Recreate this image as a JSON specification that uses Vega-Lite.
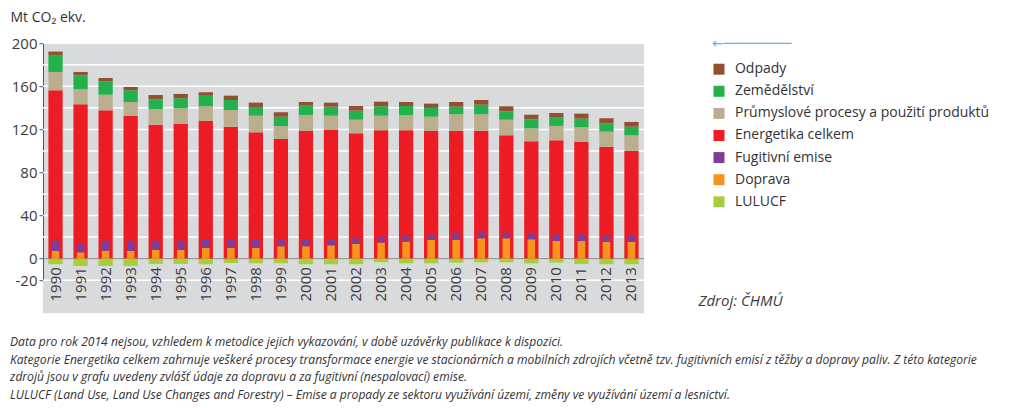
{
  "$schema": "https://vega.github.io/schema/vega-lite/v6.json",
  "width": 601,
  "height": 237,
  "autosize": {"type": "none"},
  "padding": {"left": 43, "top": 43.2, "right": 380, "bottom": 128},
  "background": "white",
  "config": {
    "view": {"fill": "#d9dadc", "stroke": null},
    "font": "Open Sans",
    "axisY": {"labelOverlap": false}
  },
  "title": {
    "text": [
      "Data pro rok 2014 nejsou, vzhledem k metodice jejich vykazování, v době uzávěrky publikace k dispozici.",
      "Kategorie Energetika celkem zahrnuje veškeré procesy transformace energie ve stacionárních a mobilních zdrojích včetně tzv. fugitivních emisí z těžby a dopravy paliv. Z této kategorie",
      "zdrojů jsou v grafu uvedeny zvlášť údaje za dopravu a za fugitivní (nespalovací) emise.",
      "LULUCF (Land Use, Land Use Changes and Forestry) – Emise a propady ze sektoru využívání území, změny ve využívání území a lesnictví."
    ],
    "orient": "bottom",
    "anchor": "start",
    "frame": "group",
    "dx": -33,
    "offset": 23,
    "font": "Open Sans",
    "fontSize": 12.1,
    "fontStyle": "italic",
    "fontWeight": "normal",
    "color": "#333333",
    "lineHeight": 17.5
  },
  "data": {
    "values": [
      {"rok": "1990", "Energetika celkem": 156.3, "Průmyslové procesy a použití produktů": 17.0, "Zemědělství": 15.8, "Odpady": 3.1, "Doprava": 7.1, "Fugitivní emise": 9.6, "LULUCF": -5.2},
      {"rok": "1991", "Energetika celkem": 143.3, "Průmyslové procesy a použití produktů": 13.9, "Zemědělství": 13.0, "Odpady": 3.1, "Doprava": 5.9, "Fugitivní emise": 8.4, "LULUCF": -6.8},
      {"rok": "1992", "Energetika celkem": 137.7, "Průmyslové procesy a použití produktů": 14.5, "Zemědělství": 12.4, "Odpady": 3.1, "Doprava": 7.4, "Fugitivní emise": 9.3, "LULUCF": -6.8},
      {"rok": "1993", "Energetika celkem": 132.4, "Průmyslové procesy a použití produktů": 13.0, "Zemědělství": 10.9, "Odpady": 3.1, "Doprava": 7.1, "Fugitivní emise": 9.6, "LULUCF": -6.8},
      {"rok": "1994", "Energetika celkem": 124.4, "Průmyslové procesy a použití produktů": 14.5, "Zemědělství": 9.0, "Odpady": 4.0, "Doprava": 8.1, "Fugitivní emise": 8.6, "LULUCF": -4.9},
      {"rok": "1995", "Energetika celkem": 125.3, "Průmyslové procesy a použití produktů": 14.3, "Zemědělství": 9.3, "Odpady": 4.0, "Doprava": 8.1, "Fugitivní emise": 8.6, "LULUCF": -4.9},
      {"rok": "1996", "Energetika celkem": 127.8, "Průmyslové procesy a použití produktů": 13.6, "Zemědělství": 9.9, "Odpady": 3.1, "Doprava": 9.9, "Fugitivní emise": 8.1, "LULUCF": -5.2},
      {"rok": "1997", "Energetika celkem": 122.5, "Průmyslové procesy a použití produktů": 15.5, "Zemědělství": 9.3, "Odpady": 4.0, "Doprava": 9.9, "Fugitivní emise": 7.5, "LULUCF": -4.0},
      {"rok": "1998", "Energetika celkem": 117.3, "Průmyslové procesy a použití produktů": 15.4, "Zemědělství": 8.1, "Odpady": 4.0, "Doprava": 9.9, "Fugitivní emise": 7.5, "LULUCF": -4.3},
      {"rok": "1999", "Energetika celkem": 111.1, "Průmyslové procesy a použití produktů": 12.1, "Zemědělství": 8.6, "Odpady": 4.1, "Doprava": 11.5, "Fugitivní emise": 6.5, "LULUCF": -4.3},
      {"rok": "2000", "Energetika celkem": 118.5, "Průmyslové procesy a použití produktů": 14.9, "Zemědělství": 8.6, "Odpady": 3.4, "Doprava": 11.5, "Fugitivní emise": 5.9, "LULUCF": -5.2},
      {"rok": "2001", "Energetika celkem": 119.4, "Průmyslové procesy a použití produktů": 13.3, "Zemědělství": 8.4, "Odpady": 3.7, "Doprava": 12.4, "Fugitivní emise": 5.6, "LULUCF": -5.2},
      {"rok": "2002", "Energetika celkem": 116.4, "Průmyslové procesy a použití produktů": 12.6, "Zemědělství": 8.4, "Odpady": 4.3, "Doprava": 13.6, "Fugitivní emise": 5.3, "LULUCF": -5.2},
      {"rok": "2003", "Energetika celkem": 119.2, "Průmyslové procesy a použití produktů": 13.5, "Zemědělství": 8.7, "Odpady": 4.3, "Doprava": 14.9, "Fugitivní emise": 5.5, "LULUCF": -3.4},
      {"rok": "2004", "Energetika celkem": 119.2, "Průmyslové procesy a použití produktů": 13.9, "Zemědělství": 8.6, "Odpady": 3.7, "Doprava": 15.8, "Fugitivní emise": 5.6, "LULUCF": -4.3},
      {"rok": "2005", "Energetika celkem": 118.5, "Průmyslové procesy a použití produktů": 13.3, "Zemědělství": 8.1, "Odpady": 4.0, "Doprava": 17.4, "Fugitivní emise": 4.9, "LULUCF": -4.3},
      {"rok": "2006", "Energetika celkem": 118.8, "Průmyslové procesy a použití produktů": 15.2, "Zemědělství": 7.1, "Odpady": 4.3, "Doprava": 17.4, "Fugitivní emise": 6.7, "LULUCF": -3.7},
      {"rok": "2007", "Energetika celkem": 118.8, "Průmyslové procesy a použití produktů": 15.2, "Zemědělství": 8.9, "Odpady": 4.4, "Doprava": 18.9, "Fugitivní emise": 5.5, "LULUCF": -3.4},
      {"rok": "2008", "Energetika celkem": 114.5, "Průmyslové procesy a použití produktů": 14.5, "Zemědělství": 7.8, "Odpady": 4.6, "Doprava": 18.9, "Fugitivní emise": 5.2, "LULUCF": -3.4},
      {"rok": "2009", "Energetika celkem": 109.0, "Průmyslové procesy a použití produktů": 12.0, "Zemědělství": 8.4, "Odpady": 4.2, "Doprava": 18.0, "Fugitivní emise": 5.5, "LULUCF": -4.3},
      {"rok": "2010", "Energetika celkem": 109.9, "Průmyslové procesy a použití produktů": 13.3, "Zemědělství": 7.7, "Odpady": 4.3, "Doprava": 16.4, "Fugitivní emise": 6.2, "LULUCF": -3.7},
      {"rok": "2011", "Energetika celkem": 108.3, "Průmyslové procesy a použití produktů": 13.7, "Zemědělství": 8.0, "Odpady": 4.6, "Doprava": 16.4, "Fugitivní emise": 6.2, "LULUCF": -4.9},
      {"rok": "2012", "Energetika celkem": 103.9, "Průmyslové procesy a použití produktů": 14.0, "Zemědělství": 7.8, "Odpady": 4.6, "Doprava": 15.5, "Fugitivní emise": 6.5, "LULUCF": -5.2},
      {"rok": "2013", "Energetika celkem": 100.0, "Průmyslové procesy a použití produktů": 14.5, "Zemědělství": 8.0, "Odpady": 4.4, "Doprava": 15.5, "Fugitivní emise": 6.5, "LULUCF": -5.2}
    ]
  },
  "resolve": {"axis": {"y": "independent"}},
  "layer": [
    {
      "data": {"values": [{}]},
      "mark": {"type": "rect", "color": "#d9dadc"},
      "encoding": {
        "y": {
          "datum": -20,
          "type": "quantitative",
          "scale": {"domain": [-20, 200], "nice": false, "zero": false},
          "axis": {
            "orient": "left",
            "values": [-20, 40, 120, 200],
            "labelExpr": "datum.value < 0 ? '-' + abs(datum.value) : datum.label",
            "labelOverlap": false,
            "title": "Mt CO₂ ekv.",
            "titleAngle": 0,
            "titleAlign": "left",
            "titleBaseline": "alphabetic",
            "titleX": -33,
            "titleY": -21.7,
            "titleFontSize": 14,
            "titleFontWeight": "normal",
            "titleColor": "#333333",
            "labelFontSize": 15,
            "labelColor": "#3c3c3c",
            "labelPadding": 2,
            "tickSize": 4,
            "tickColor": "#555555",
            "domainColor": "#555555",
            "grid": false
          }
        },
        "y2": {"datum": -50.6}
      }
    },
    {
      "data": {"values": [{"mez": -20}, {"mez": 20}, {"mez": 40}, {"mez": 60}, {"mez": 80}, {"mez": 100}, {"mez": 120}, {"mez": 140}, {"mez": 160}, {"mez": 180}, {"mez": 200}]},
      "mark": {"type": "rule", "color": "#ffffff", "strokeWidth": 1.5},
      "encoding": {
        "y": {"field": "mez", "type": "quantitative", "axis": null}
      }
    },
    {
      "data": {"values": [{}]},
      "mark": {"type": "rule", "color": "#8c8c8c", "strokeWidth": 1},
      "encoding": {
        "y": {"datum": 0, "type": "quantitative", "axis": null}
      }
    },
    {
      "transform": [
        {"fold": ["Energetika celkem", "Průmyslové procesy a použití produktů", "Zemědělství", "Odpady", "LULUCF"], "as": ["kategorie", "hodnota"]},
        {"window": [{"op": "row_number", "as": "poradi"}], "groupby": ["rok"]}
      ],
      "mark": {"type": "bar"},
      "encoding": {
        "x": {
          "field": "rok",
          "type": "ordinal",
          "scale": {"paddingInner": 0.43, "paddingOuter": 0.215},
          "axis": {
            "title": "Zdroj: ČHMÚ",
            "offset": -21.5,
            "labelAngle": 270,
            "labelAlign": "right",
            "labelBaseline": "middle",
            "labelPadding": 8,
            "ticks": false,
            "domain": false,
            "labelFontSize": 15,
            "labelColor": "#3c3c3c",
            "zindex": 1,
            "titleX": 655,
            "titleY": 47,
            "titleAlign": "left",
            "titleBaseline": "alphabetic",
            "titleFontStyle": "italic",
            "titleFontWeight": "normal",
            "titleFontSize": 15,
            "titleColor": "#3c3c3c"
          }
        },
        "y": {
          "field": "hodnota",
          "type": "quantitative",
          "stack": "zero",
          "axis": {
            "orient": "left",
            "values": [0, 80, 160],
            "labelOverlap": false,
            "title": null,
            "labelFontSize": 15,
            "labelColor": "#3c3c3c",
            "labelPadding": 2,
            "tickSize": 4,
            "tickColor": "#555555",
            "domainColor": "#555555",
            "grid": false
          }
        },
        "order": {"field": "poradi", "type": "quantitative", "sort": "ascending"},
        "color": {
          "field": "kategorie",
          "type": "nominal",
          "scale": {
            "domain": ["Odpady", "Zemědělství", "Průmyslové procesy a použití produktů", "Energetika celkem", "Fugitivní emise", "Doprava", "LULUCF"],
            "range": ["#91502f", "#22b14c", "#bbae8e", "#ed1c24", "#7b3f9b", "#f7941d", "#a3cf3a"]
          },
          "legend": {
            "orient": "none",
            "legendX": 669,
            "legendY": -6,
            "title": "←────────",
            "titleColor": "#5bb5e6",
            "titleFont": "DejaVu Sans",
            "titleFontSize": 14,
            "titleFontWeight": "normal",
            "titlePadding": 11,
            "symbolType": "square",
            "symbolSize": 121,
            "symbolStrokeWidth": 0,
            "labelFontSize": 14,
            "labelColor": "#333333",
            "labelOffset": 9,
            "labelLimit": 400,
            "rowPadding": 8.1
          }
        }
      }
    },
    {
      "transform": [
        {"fold": ["Doprava", "Fugitivní emise"], "as": ["kategorie", "hodnota"]},
        {"window": [{"op": "row_number", "as": "poradi"}], "groupby": ["rok"]}
      ],
      "mark": {"type": "bar", "width": {"band": 0.53}},
      "encoding": {
        "x": {"field": "rok", "type": "ordinal"},
        "y": {"field": "hodnota", "type": "quantitative", "stack": "zero", "axis": null},
        "order": {"field": "poradi", "type": "quantitative", "sort": "ascending"},
        "color": {"field": "kategorie", "type": "nominal"}
      }
    }
  ]
}
